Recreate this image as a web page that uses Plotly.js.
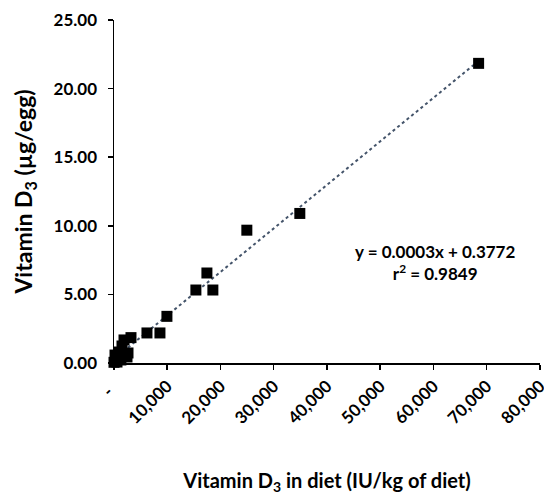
<!DOCTYPE html>
<html>
<head>
<meta charset="utf-8">
<script src="https://cdn.plot.ly/plotly-3.0.1.min.js"></script>
<style>html,body{margin:0;padding:0;background:#fff;}#chart{width:544px;height:496px;}</style>
</head>
<body>
<div id="chart"></div>
<script>
// Data
const dietD3 = [0, 190, 560, 940, 1300, 1500, 1880, 2440, 2630, 3190, 6190, 8630, 9940, 15380, 17450, 18570, 24950, 34900, 68480];
const eggD3  = [0.05, 0.58, 0.07, 0.80, 0.22, 1.24, 1.68, 0.44, 0.73, 1.85, 2.19, 2.19, 3.40, 5.32, 6.56, 5.32, 9.68, 10.90, 21.84];
const xTickVals = [0, 10000, 20000, 30000, 40000, 50000, 60000, 70000, 80000];
const xTickText = ["-\u00a0\u00a0", "10,000", "20,000", "30,000", "40,000", "50,000", "60,000", "70,000", "80,000"];
const yTickVals = [0, 5, 10, 15, 20, 25];
const equationText = "y = 0.0003x + 0.3772<br>r<sup>2</sup> = 0.9849";

// Linear least-squares trendline over the data range (as the spreadsheet does)
const n = dietD3.length;
const mx = dietD3.reduce((a, b) => a + b, 0) / n;
const my = eggD3.reduce((a, b) => a + b, 0) / n;
let sxy = 0, sxx = 0;
for (let i = 0; i < n; i++) { sxy += (dietD3[i] - mx) * (eggD3[i] - my); sxx += (dietD3[i] - mx) ** 2; }
const slope = sxy / sxx, intercept = my - slope * mx;
const xMin = Math.min(...dietD3), xMax = Math.max(...dietD3);

const font = "Lato, 'Open Sans', sans-serif";

const traces = [
  {
    x: [xMin, xMax], y: [intercept + slope * xMin, intercept + slope * xMax],
    mode: 'lines', type: 'scatter',
    line: {color: '#44546a', width: 2, dash: 'dot'},
    hoverinfo: 'skip', cliponaxis: false
  },
  {
    x: dietD3, y: eggD3, mode: 'markers', type: 'scatter',
    marker: {symbol: 'square', size: 11, color: '#000000'},
    cliponaxis: false
  }
];

const layout = {
  width: 544, height: 496,
  margin: {l: 114, r: 4, t: 20, b: 133},
  paper_bgcolor: '#ffffff', plot_bgcolor: '#ffffff',
  showlegend: false,
  font: {family: font, color: '#000000'},
  xaxis: {
    range: [0, 80010], tickvals: xTickVals, ticktext: xTickText,
    tickangle: -45, ticks: 'outside', ticklen: 5, tickwidth: 1.5, tickcolor: '#000',
    ticklabeloverflow: 'allow',
    showline: true, linecolor: '#000', linewidth: 1.5,
    showgrid: false, zeroline: false,
    tickfont: {family: font, size: 17, color: '#000', weight: 'bold'},
    title: {text: 'Vitamin D<sub>3</sub> in diet (IU/kg of diet)', standoff: 47,
            font: {family: font, size: 20, color: '#000', weight: 'bold'}}
  },
  yaxis: {
    range: [0, 25], tickvals: yTickVals, tickformat: '.2f',
    ticks: 'outside', ticklen: 5, tickwidth: 1.5, tickcolor: '#000',
    ticklabelstandoff: 7,
    showline: true, linecolor: '#000', linewidth: 1.5,
    showgrid: false, zeroline: false,
    tickfont: {family: font, size: 17, color: '#000', weight: 'bold'},
    title: {text: 'Vitamin D<sub>3</sub> (µg/egg)', standoff: 14,
            font: {family: font, size: 23, color: '#000', weight: 'bold'}}
  },
  annotations: [{
    xref: 'paper', yref: 'paper', x: 0.754, y: 0.294,
    xanchor: 'center', yanchor: 'middle',
    text: equationText, showarrow: false, align: 'center',
    font: {family: font, size: 17, color: '#000', weight: 'bold'}
  }]
};

Plotly.newPlot('chart', traces, layout, {staticPlot: true, displayModeBar: false});
</script>
</body>
</html>
